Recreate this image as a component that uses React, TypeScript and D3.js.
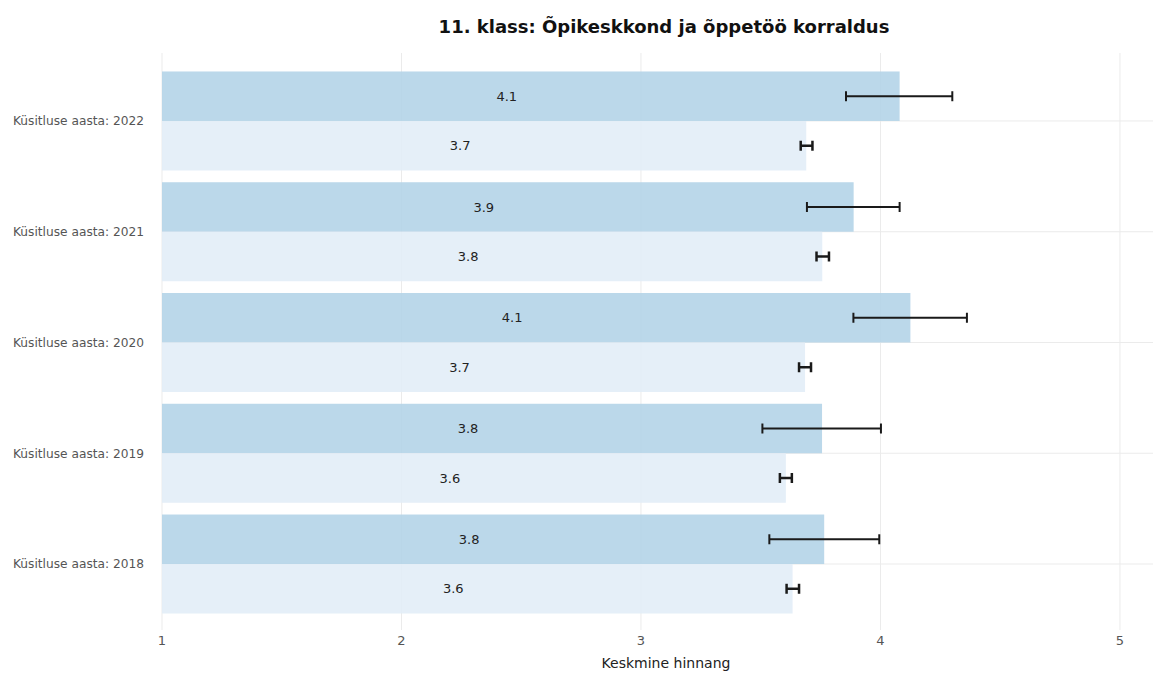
import React from "react";
import * as d3 from "d3";

const years = ["2022", "2021", "2020", "2019", "2018"];
const schoolMean = [4.08, 3.888, 4.125, 3.756, 3.765];
const schoolLow = [3.856, 3.693, 3.887, 3.507, 3.536];
const schoolHigh = [4.3, 4.08, 4.361, 4.002, 3.995];
const allMean = [3.69, 3.757, 3.685, 3.605, 3.633];
const allLow = [3.667, 3.733, 3.66, 3.58, 3.608];
const allHigh = [3.716, 3.785, 3.71, 3.63, 3.66];
const xTicks = [1, 2, 3, 4, 5];

const W = 1153;
const H = 673;
const FONT = "DejaVu Sans, Verdana, sans-serif";

export default function App() {
  const x = d3.scaleLinear().domain([1, 5.138]).range([162, 1153]);
  const y = d3.scaleBand<string>().domain(years).range([65.6, 619.4]).padding(0);
  const half = 49.5;
  const plotTop = 53;
  const plotBottom = 630;
  const cap = 5;

  return (
    <svg
      width={W}
      height={H}
      style={{ position: "absolute", left: 0, top: 0, background: "#fff" }}
      fontFamily={FONT}
    >
      <text x={664} y={33} textAnchor="middle" fontSize={18} fontWeight="bold" fill="#111">
        11. klass: Õpikeskkond ja õppetöö korraldus
      </text>

      {/* grid */}
      {xTicks.map((t) => (
        <line key={"vg" + t} x1={x(t)} x2={x(t)} y1={plotTop} y2={plotBottom} stroke="#ebebeb" strokeWidth={1} />
      ))}
      {years.map((yr) => {
        const c = (y(yr) as number) + y.bandwidth() / 2;
        return <line key={"hg" + yr} x1={162} x2={W} y1={c} y2={c} stroke="#ebebeb" strokeWidth={1} />;
      })}

      {/* bars */}
      {years.map((yr, i) => {
        const c = (y(yr) as number) + y.bandwidth() / 2;
        return (
          <g key={"bars" + yr}>
            <rect x={x(1)} y={c - half} width={x(schoolMean[i]) - x(1)} height={half} fill="#b4d4e8" opacity={0.9} />
            <rect x={x(1)} y={c} width={x(allMean[i]) - x(1)} height={half} fill="#e2edf7" opacity={0.9} />
          </g>
        );
      })}

      {/* value labels */}
      {years.map((yr, i) => {
        const c = (y(yr) as number) + y.bandwidth() / 2;
        const m1 = (x(1) + x(schoolMean[i])) / 2 - 24;
        const m2 = (x(1) + x(allMean[i])) / 2 - 24;
        return (
          <g key={"lab" + yr} fontSize={13} fill="#222" textAnchor="middle">
            <text x={m1} y={c - half / 2} dy="0.35em">{schoolMean[i].toFixed(1)}</text>
            <text x={m2} y={c + half / 2} dy="0.35em">{allMean[i].toFixed(1)}</text>
          </g>
        );
      })}

      {/* error bars */}
      {years.map((yr, i) => {
        const c = (y(yr) as number) + y.bandwidth() / 2;
        const ys = c - half / 2;
        const ya = c + half / 2;
        return (
          <g key={"err" + yr} stroke="#1a1a1a" strokeWidth={2}>
            <line x1={x(schoolLow[i])} x2={x(schoolHigh[i])} y1={ys} y2={ys} />
            <line x1={x(schoolLow[i])} x2={x(schoolLow[i])} y1={ys - cap} y2={ys + cap} />
            <line x1={x(schoolHigh[i])} x2={x(schoolHigh[i])} y1={ys - cap} y2={ys + cap} />
            <line x1={x(allLow[i])} x2={x(allHigh[i])} y1={ya} y2={ya} strokeWidth={2.5} />
            <line x1={x(allLow[i])} x2={x(allLow[i])} y1={ya - cap} y2={ya + cap} strokeWidth={2.5} />
            <line x1={x(allHigh[i])} x2={x(allHigh[i])} y1={ya - cap} y2={ya + cap} strokeWidth={2.5} />
          </g>
        );
      })}

      {/* y labels */}
      {years.map((yr) => {
        const c = (y(yr) as number) + y.bandwidth() / 2;
        return (
          <text key={"yl" + yr} x={144} y={c} dy="0.35em" textAnchor="end" fontSize={12.2} fill="#555">
            Küsitluse aasta: {yr}
          </text>
        );
      })}

      {/* x ticks */}
      {xTicks.map((t) => (
        <text key={"xt" + t} x={x(t)} y={645} textAnchor="middle" fontSize={13} fill="#555">
          {t}
        </text>
      ))}
      <text x={666} y={668} textAnchor="middle" fontSize={14} fill="#222">
        Keskmine hinnang
      </text>
    </svg>
  );
}
